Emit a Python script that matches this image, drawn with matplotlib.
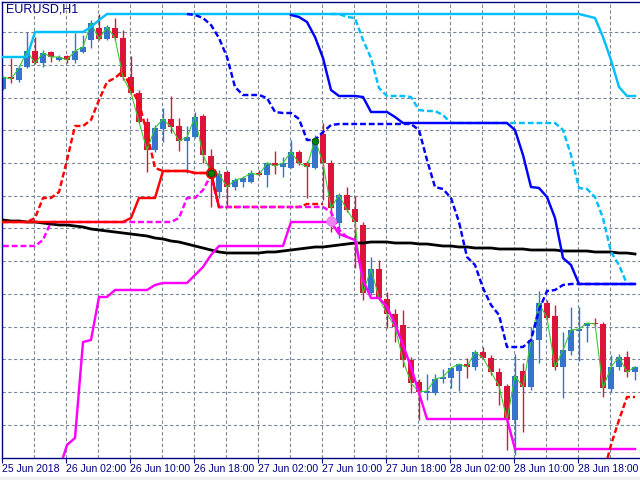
import numpy as np
import matplotlib
matplotlib.use("Agg")
from matplotlib import pyplot as plt
from matplotlib.patches import Rectangle

nan = np.nan

#%% Data : EURUSD H1, 80 bars from 25 Jun 18:00
tick_bars = [0, 8, 16, 24, 32, 40, 48, 56, 64, 72]
tick_labels = ['25 Jun 2018', '26 Jun 02:00', '26 Jun 10:00', '26 Jun 18:00',
               '27 Jun 02:00', '27 Jun 10:00', '27 Jun 18:00', '28 Jun 02:00',
               '28 Jun 10:00', '28 Jun 18:00']
grid_levels = [1.17003, 1.16905, 1.16807, 1.16709, 1.16611, 1.16513, 1.16415,
               1.16316, 1.16218, 1.16120, 1.16022, 1.15924, 1.15826]

opens = [1.16833, 1.16869, 1.16860, 1.16899, 1.16947, 1.16911, 1.16944, 1.16920, 1.16932, 1.16920,
         1.16944, 1.16980, 1.17016, 1.16983, 1.17016, 1.16986, 1.16869, 1.16821, 1.16734, 1.16650,
         1.16713, 1.16743, 1.16722, 1.16677, 1.16689, 1.16752, 1.16632, 1.16524, 1.16584, 1.16539,
         1.16554, 1.16554, 1.16581, 1.16575, 1.16611, 1.16599, 1.16596, 1.16644, 1.16611, 1.16596,
         1.16698, 1.16611, 1.16431, 1.16515, 1.16473, 1.16425, 1.16221, 1.16293, 1.16203, 1.16158,
         1.16125, 1.16020, 1.15954, 1.15921, 1.15921, 1.15963, 1.15966, 1.15987, 1.16008, 1.15999,
         1.16044, 1.16026, 1.15984, 1.15942, 1.15840, 1.15987, 1.15939, 1.16080, 1.16191, 1.16152,
         1.15999, 1.16047, 1.16107, 1.16122, 1.16131, 1.16128, 1.15933, 1.15999, 1.16029, 1.15984]
highs = [1.16872, 1.16926, 1.16905, 1.17004, 1.16989, 1.16950, 1.16947, 1.16935, 1.16935, 1.17001,
         1.16995, 1.17040, 1.17058, 1.17025, 1.17046, 1.17010, 1.16932, 1.16830, 1.16746, 1.16725,
         1.16776, 1.16812, 1.16746, 1.16722, 1.16764, 1.16758, 1.16653, 1.16590, 1.16590, 1.16566,
         1.16572, 1.16590, 1.16590, 1.16614, 1.16647, 1.16629, 1.16680, 1.16650, 1.16617, 1.16695,
         1.16731, 1.16620, 1.16521, 1.16539, 1.16512, 1.16434, 1.16329, 1.16320, 1.16224, 1.16173,
         1.16170, 1.16029, 1.15963, 1.15978, 1.15978, 1.15993, 1.15996, 1.16008, 1.16026, 1.16050,
         1.16059, 1.16035, 1.15996, 1.15948, 1.16038, 1.16011, 1.16119, 1.16227, 1.16200, 1.16185,
         1.16104, 1.16179, 1.16179, 1.16131, 1.16146, 1.16134, 1.16035, 1.16038, 1.16047, 1.16002]
lows = [1.16830, 1.16851, 1.16854, 1.16896, 1.16908, 1.16899, 1.16914, 1.16917, 1.16911, 1.16911,
        1.16941, 1.16956, 1.16980, 1.16980, 1.16980, 1.16860, 1.16818, 1.16731, 1.16584, 1.16644,
        1.16674, 1.16701, 1.16647, 1.16581, 1.16686, 1.16611, 1.16479, 1.16506, 1.16479, 1.16530,
        1.16539, 1.16551, 1.16572, 1.16539, 1.16578, 1.16569, 1.16596, 1.16605, 1.16506, 1.16593,
        1.16500, 1.16404, 1.16386, 1.16464, 1.16296, 1.16200, 1.16215, 1.16200, 1.16116, 1.16074,
        1.15999, 1.15921, 1.15840, 1.15900, 1.15915, 1.15951, 1.15936, 1.15927, 1.15966, 1.15990,
        1.16023, 1.15975, 1.15885, 1.15750, 1.15735, 1.15804, 1.15930, 1.16011, 1.16140, 1.15990,
        1.15906, 1.16035, 1.16017, 1.16074, 1.16122, 1.15909, 1.15924, 1.15990, 1.15969, 1.15960]
closes = [1.16869, 1.16863, 1.16896, 1.16947, 1.16911, 1.16941, 1.16929, 1.16929, 1.16920, 1.16947,
          1.16959, 1.17031, 1.16983, 1.17019, 1.16986, 1.16869, 1.16821, 1.16734, 1.16650, 1.16716,
          1.16743, 1.16719, 1.16677, 1.16689, 1.16749, 1.16635, 1.16584, 1.16578, 1.16539, 1.16560,
          1.16566, 1.16581, 1.16575, 1.16611, 1.16602, 1.16611, 1.16644, 1.16611, 1.16599, 1.16683,
          1.16611, 1.16476, 1.16515, 1.16470, 1.16434, 1.16221, 1.16293, 1.16206, 1.16158, 1.16119,
          1.16020, 1.15951, 1.15924, 1.15927, 1.15963, 1.15969, 1.15996, 1.16008, 1.15999, 1.16044,
          1.16026, 1.15984, 1.15942, 1.15840, 1.15972, 1.15939, 1.16080, 1.16191, 1.16146, 1.15999,
          1.16050, 1.16110, 1.16113, 1.16131, 1.16128, 1.15936, 1.15999, 1.16029, 1.15984, 1.15999]

# moving average (black)
ma_line = [1.16440, 1.16437, 1.16437, 1.16434, 1.16434, 1.16431, 1.16428, 1.16425, 1.16425, 1.16422,
           1.16419, 1.16413, 1.16410, 1.16407, 1.16404, 1.16401, 1.16398, 1.16395, 1.16392, 1.16386,
           1.16383, 1.16377, 1.16374, 1.16368, 1.16362, 1.16356, 1.16350, 1.16344, 1.16341, 1.16341,
           1.16341, 1.16341, 1.16341, 1.16344, 1.16344, 1.16347, 1.16350, 1.16353, 1.16356, 1.16359,
           1.16359, 1.16362, 1.16365, 1.16368, 1.16371, 1.16371, 1.16374, 1.16374, 1.16374, 1.16371,
           1.16371, 1.16371, 1.16368, 1.16368, 1.16365, 1.16362, 1.16362, 1.16359, 1.16359, 1.16356,
           1.16356, 1.16356, 1.16353, 1.16353, 1.16353, 1.16353, 1.16350, 1.16350, 1.16350, 1.16350,
           1.16347, 1.16347, 1.16347, 1.16347, 1.16344, 1.16344, 1.16344, 1.16341, 1.16341, 1.16338]

# upper channel (cyan / blue)
cyan_solid = [1.16929, 1.16929, 1.16929, 1.16929, 1.17004, 1.17004, 1.17004, 1.17004, 1.17004, 1.17004,
              1.17004, 1.17019, 1.17040, 1.17058, 1.17058, 1.17058, 1.17058, 1.17058, 1.17058, 1.17058,
              1.17058, 1.17058, 1.17058, 1.17058, 1.17058, 1.17058, 1.17058, 1.17058, 1.17058, 1.17058,
              1.17058, 1.17058, 1.17058, 1.17058, 1.17058, 1.17058, 1.17058, 1.17058, 1.17058, 1.17058,
              1.17058, 1.17058, 1.17058, 1.17058, 1.17058, 1.17058, 1.17058, 1.17058, 1.17058, 1.17058,
              1.17058, 1.17058, 1.17058, 1.17058, 1.17058, 1.17058, 1.17058, 1.17058, 1.17058, 1.17058,
              1.17058, 1.17058, 1.17058, 1.17058, 1.17058, 1.17058, 1.17058, 1.17058, 1.17058, 1.17058,
              1.17058, 1.17058, 1.17058, 1.17052, 1.17046, 1.16989, 1.16920, 1.16839, 1.16812, 1.16812]
cyan_dash = [nan, nan, nan, nan, nan, nan, nan, nan, nan, nan,
             nan, nan, nan, nan, nan, nan, nan, nan, nan, nan,
             nan, nan, nan, nan, nan, nan, nan, nan, nan, nan,
             nan, nan, nan, nan, nan, nan, nan, nan, nan, nan,
             nan, 1.17058, 1.17058, 1.17049, 1.17046, 1.16980, 1.16926, 1.16836, 1.16812, 1.16812,
             1.16812, 1.16809, 1.16770, 1.16767, 1.16767, 1.16755, 1.16731, 1.16731, 1.16731, 1.16731,
             1.16731, 1.16731, 1.16731, 1.16731, 1.16731, 1.16731, 1.16731, 1.16731, 1.16731, 1.16731,
             1.16710, 1.16635, 1.16536, 1.16533, 1.16509, 1.16446, 1.16344, 1.16305, 1.16248, 1.16248]
blue_solid = [nan, nan, nan, nan, nan, nan, nan, nan, nan, nan,
              nan, nan, nan, nan, nan, nan, nan, nan, nan, nan,
              nan, nan, nan, nan, nan, nan, nan, nan, nan, nan,
              nan, nan, nan, nan, nan, nan, 1.17055, 1.17049, 1.17034, 1.16989,
              1.16926, 1.16830, 1.16812, 1.16812, 1.16812, 1.16809, 1.16764, 1.16764, 1.16764, 1.16749,
              1.16731, 1.16731, 1.16731, 1.16731, 1.16731, 1.16731, 1.16731, 1.16731, 1.16731, 1.16731,
              1.16731, 1.16731, 1.16731, 1.16731, 1.16710, 1.16635, 1.16539, 1.16536, 1.16509, 1.16446,
              1.16326, 1.16305, 1.16248, 1.16248, 1.16248, 1.16248, 1.16248, 1.16248, 1.16248, 1.16248]
blue_dash = [nan, nan, nan, nan, nan, nan, nan, nan, nan, nan,
             nan, nan, nan, nan, nan, nan, nan, nan, nan, nan,
             nan, nan, nan, 1.17058, 1.17055, 1.17046, 1.17025, 1.16986, 1.16929, 1.16839,
             1.16815, 1.16815, 1.16815, 1.16806, 1.16764, 1.16761, 1.16761, 1.16743, 1.16680, 1.16680,
             1.16704, 1.16725, 1.16728, 1.16728, 1.16728, 1.16728, 1.16728, 1.16728, 1.16728, 1.16728,
             1.16728, 1.16728, 1.16710, 1.16620, 1.16539, 1.16533, 1.16506, 1.16434, 1.16329, 1.16305,
             1.16236, 1.16185, 1.16155, 1.16059, 1.16059, 1.16059, 1.16080, 1.16170, 1.16227, 1.16230,
             1.16245, 1.16248, 1.16248, 1.16248, 1.16248, 1.16248, 1.16248, 1.16248, 1.16248, 1.16248]

# lower channel (red / magenta)
red_solid = [1.16434, 1.16434, 1.16434, 1.16434, 1.16434, 1.16434, 1.16434, 1.16434, 1.16434, 1.16434,
             1.16434, 1.16434, 1.16434, 1.16434, 1.16434, 1.16434, 1.16446, 1.16506, 1.16506, 1.16506,
             1.16587, 1.16587, 1.16587, 1.16587, 1.16581, 1.16581, 1.16581, 1.16479, nan, nan,
             nan, nan, nan, nan, nan, nan, nan, nan, nan, nan,
             nan, nan, nan, nan, nan, nan, nan, nan, nan, nan,
             nan, nan, nan, nan, nan, nan, nan, nan, nan, nan,
             nan, nan, nan, nan, nan, nan, nan, nan, nan, nan,
             nan, nan, nan, nan, nan, nan, nan, nan, nan, nan]
red_dash = [1.16434, 1.16434, 1.16434, 1.16434, 1.16446, 1.16506, 1.16506, 1.16524, 1.16620, 1.16722,
            1.16722, 1.16740, 1.16800, 1.16854, 1.16866, 1.16887, 1.16836, 1.16791, 1.16701, 1.16596,
            1.16587, 1.16587, 1.16587, 1.16587, 1.16581, 1.16581, 1.16581, 1.16479, 1.16479, 1.16479,
            1.16479, 1.16479, 1.16479, 1.16479, 1.16479, 1.16479, 1.16479, 1.16479, 1.16488, 1.16488,
            1.16488, nan, nan, nan, nan, nan, nan, nan, nan, nan,
            nan, nan, nan, nan, nan, nan, nan, nan, nan, nan,
            nan, nan, nan, nan, nan, nan, nan, nan, nan, nan,
            nan, nan, nan, nan, nan, 1.15675, 1.15765, 1.15840, 1.15909, 1.15909]
magenta_solid = [nan, nan, nan, nan, nan, nan, nan, 1.15690, 1.15765, 1.15786,
                 1.16074, 1.16080, 1.16209, 1.16209, 1.16230, 1.16230, 1.16230, 1.16230, 1.16230, 1.16245,
                 1.16251, 1.16251, 1.16251, 1.16251, 1.16275, 1.16299, 1.16335, 1.16362, 1.16362, 1.16362,
                 1.16362, 1.16362, 1.16362, 1.16362, 1.16362, 1.16362, 1.16434, 1.16434, 1.16434, 1.16434,
                 1.16434, 1.16434, 1.16398, 1.16389, 1.16380, 1.16260, 1.16206, 1.16206, 1.16179, 1.16128,
                 1.16065, 1.15999, 1.15921, 1.15843, 1.15843, 1.15843, 1.15843, 1.15843, 1.15843, 1.15843,
                 1.15843, 1.15843, 1.15843, 1.15843, 1.15753, 1.15753, 1.15753, 1.15753, 1.15753, 1.15753,
                 1.15753, 1.15753, 1.15753, 1.15753, 1.15753, 1.15753, 1.15753, 1.15753, 1.15753, 1.15753]
magenta_dash = [1.16362, 1.16362, 1.16362, 1.16362, 1.16362, 1.16380, 1.16434, 1.16434, 1.16434, 1.16434,
                1.16434, 1.16434, 1.16434, 1.16434, 1.16434, 1.16434, 1.16434, 1.16434, 1.16434, 1.16434,
                1.16434, 1.16434, 1.16446, 1.16506, 1.16506, 1.16530, 1.16575, 1.16479, 1.16479, 1.16479,
                1.16479, 1.16479, 1.16479, 1.16479, 1.16479, 1.16479, 1.16479, 1.16479, 1.16479, 1.16479,
                1.16479, 1.16464, 1.16410, 1.16389, nan, nan, nan, nan, nan, nan,
                nan, nan, nan, nan, nan, nan, nan, nan, nan, nan,
                nan, nan, nan, nan, nan, nan, nan, nan, nan, nan,
                nan, nan, nan, nan, nan, nan, nan, nan, nan, nan]

# signal dots : (bar, price)
red_dot = (26, 1.16581)
green_dots = [(26, 1.16581), (39, 1.16677)]
pink_dot = (41, 1.16437)

#%% Figure
plt.rcParams['font.family'] = ['Liberation Sans Narrow', 'Liberation Sans', 'DejaVu Sans']
navy = '#000080'
bull = '#3374cc'
bear = '#dc143c'

fig = plt.figure(figsize=(6.4, 4.8), dpi=100)
fig.patch.set_facecolor('white')
fig.add_artist(Rectangle((0, 0), 1, 3 / 480, transform=fig.transFigure,
                         color='#f0f0f0', zorder=0))
ax = fig.add_axes([2 / 640, 22 / 480, 638 / 640, 456 / 480])

bars = np.arange(len(closes))
o = np.array(opens)
c = np.array(closes)

# grid
for g in np.arange(4, len(bars), 4) - 0.125:
    ax.axvline(g, color='#778899', lw=0.8, ls=(0, (3, 2.2)), zorder=0.5)
for lv in grid_levels:
    ax.axhline(lv, color='#778899', lw=0.8, ls=(0, (3, 2.2)), zorder=0.5)

# candles
cols = np.where(c >= o, bull, bear)
ax.vlines(bars, lows, highs, colors=cols, lw=1.0, zorder=2)
ax.bar(bars, np.maximum(np.abs(c - o), 0.00003), bottom=np.minimum(o, c),
       width=0.68, color=cols, zorder=2.1, linewidth=0)

# indicator lines
lw = 1.75
dash = (0, (2.4, 1.2))
ax.plot(bars, ma_line, color='black', lw=2.0, zorder=3)
ax.plot(bars, closes, color='#32cd32', lw=0.8, zorder=3.5)
ax.plot(bars, cyan_solid, color='#00bfff', lw=lw, zorder=4)
ax.plot(bars, cyan_dash, color='#00bfff', lw=lw, ls=dash, zorder=4.1)
ax.plot(bars, blue_solid, color='#0000ff', lw=lw, zorder=4.2)
ax.plot(bars, blue_dash, color='#0000ff', lw=lw, ls=dash, zorder=4.3)
ax.plot(bars, magenta_solid, color='#ff00ff', lw=lw, zorder=4.4)
ax.plot(bars, red_dash, color='#ff0000', lw=lw, ls=dash, zorder=4.5)
ax.plot(bars, magenta_dash, color='#ff00ff', lw=lw, ls=dash, zorder=4.6)
ax.plot(bars, red_solid, color='#ff0000', lw=lw, zorder=4.7)

# dots
ax.plot(*red_dot, 'o', color='#ff0000', ms=7.5, mec='#cc0000', mew=0.6, zorder=6)
for gx, gy in green_dots:
    ax.plot(gx, gy, 'o', color='#008000', ms=4.8, mec='#005000', mew=0.6, zorder=6.5)
ax.plot(*pink_dot, 'o', color='#ee82ee', ms=6.5, mec='#ee82ee', zorder=6)

# axes
ax.set_xlim(-0.125, 79.625)
ax.set_ylim(1.15726, 1.17094)
ax.set_yticks([])
ax.set_xticks(np.array(tick_bars) - 0.125)
ax.set_xticklabels(tick_labels, ha='left', color=navy, fontsize=7.5)
ax.tick_params(axis='x', length=3.5, width=0.8, color=navy, pad=1)
for s in ['left', 'top', 'bottom']:
    ax.spines[s].set_color(navy)
    ax.spines[s].set_linewidth(1)
ax.spines['right'].set_visible(False)

fig.text(6 / 640, 1 - 9.5 / 480, 'EURUSD,H1', color=navy, fontsize=9,
         ha='left', va='center')

fig.savefig('out.png', dpi=100)
